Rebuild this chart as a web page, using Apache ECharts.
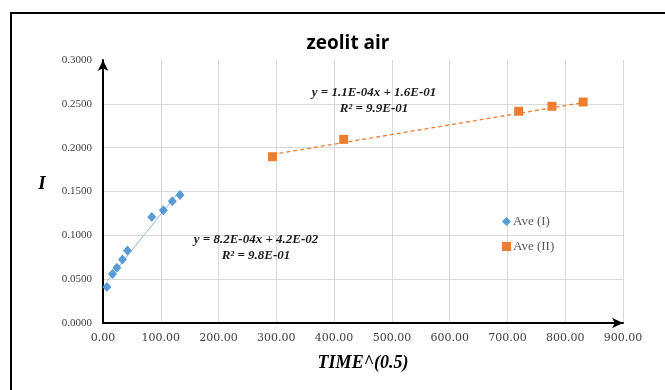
<!DOCTYPE html>
<html>
<head>
<meta charset="utf-8">
<script src="https://cdn.jsdelivr.net/npm/echarts@6/dist/echarts.min.js"></script>
<style>
  html, body { margin: 0; padding: 0; background: #fff; }
  #chart { width: 665px; height: 390px; }
</style>
</head>
<body>
<div id="chart"></div>
<script>
// Series I: early-time measurements
const aveIx = [6.7, 16.4, 24.0, 33.7, 42.3, 84.4, 104.5, 120.0, 133.3];
const aveIy = [0.0411, 0.0560, 0.0629, 0.0723, 0.0826, 0.1210, 0.1287, 0.1390, 0.1459];
// Series II: late-time measurements
const aveIIx = [293.4, 416.6, 719.4, 777.0, 831.0];
const aveIIy = [0.1897, 0.2095, 0.2415, 0.2472, 0.2521];

// Linear fits as printed on the chart
const fitI = { slope: 8.2e-4, intercept: 4.2e-2, label: 'y = 8.2E-04x + 4.2E-02', r2: 'R² = 9.8E-01' };
const fitII = { slope: 1.1e-4, intercept: 1.6e-1, label: 'y = 1.1E-04x + 1.6E-01', r2: 'R² = 9.9E-01' };

// Axis settings
const xTicks = { min: 0, max: 900, interval: 100 };
const yTicks = { min: 0, max: 0.3, interval: 0.05 };

const BLUE = '#5b9bd5';
const ORANGE = '#ed7d31';

function pairs(xs, ys) { return xs.map((x, i) => [x, ys[i]]); }
function fitLine(fit, xs) {
  const x0 = Math.min(...xs), x1 = Math.max(...xs);
  return [[x0, fit.slope * x0 + fit.intercept], [x1, fit.slope * x1 + fit.intercept]];
}

const chart = echarts.init(document.getElementById('chart'), null, { renderer: 'canvas' });

chart.setOption({
  backgroundColor: '#ffffff',
  animation: false,
  title: {
    text: 'zeolit air',
    left: 343, top: 29, textAlign: 'center',
    textStyle: { fontFamily: 'Open Sans, sans-serif', fontWeight: 'bold', fontSize: 19, color: '#000' }
  },
  grid: { left: 103, right: 42, top: 60, bottom: 67, containLabel: false },
  legend: {
    orient: 'vertical',
    left: 497, top: 210,
    itemWidth: 9, itemHeight: 9, itemGap: 12,
    data: ['Ave (I)', 'Ave (II)'],
    textStyle: { fontFamily: 'Liberation Serif, serif', fontSize: 13, color: '#595959', padding: [0, 0, 0, -3] }
  },
  xAxis: {
    type: 'value',
    min: xTicks.min, max: xTicks.max, interval: xTicks.interval,
    name: 'TIME^(0.5)',
    nameLocation: 'middle', nameGap: 31,
    nameTextStyle: { fontFamily: 'Liberation Serif, serif', fontStyle: 'italic', fontWeight: 'bold', fontSize: 18, color: '#000' },
    axisLine: { show: true, onZero: false, lineStyle: { color: '#000', width: 2 }, symbol: ['none', 'arrow'], symbolSize: [8, 11] },
    axisTick: { show: false },
    axisLabel: {
      margin: 10,
      formatter: v => v.toFixed(2),
      fontFamily: 'DejaVu Serif, serif', fontSize: 11, color: '#404040'
    },
    splitLine: { show: true, lineStyle: { color: '#d9d9d9', width: 1 } }
  },
  yAxis: {
    type: 'value',
    min: yTicks.min, max: yTicks.max, interval: yTicks.interval,
    axisLine: { show: true, onZero: false, lineStyle: { color: '#000', width: 2 }, symbol: ['none', 'arrow'], symbolSize: [8, 11] },
    axisTick: { show: false },
    axisLabel: {
      margin: 11,
      formatter: v => v.toFixed(4),
      fontFamily: 'Liberation Serif, serif', fontSize: 11, color: '#404040'
    },
    splitLine: { show: true, showMaxLine: false, lineStyle: { color: '#d9d9d9', width: 1 } }
  },
  series: [
    {
      name: 'fit I', type: 'line', data: fitLine(fitI, aveIx),
      symbol: 'none', silent: true, z: 1,
      lineStyle: { color: BLUE, width: 1, opacity: 0.7 }
    },
    {
      name: 'fit II', type: 'line', data: fitLine(fitII, aveIIx),
      symbol: 'none', silent: true, z: 1,
      lineStyle: { color: ORANGE, width: 1.3, type: [4, 3] }
    },
    {
      name: 'Ave (I)', type: 'scatter', data: pairs(aveIx, aveIy),
      symbol: 'diamond', symbolSize: [9, 10], z: 3,
      itemStyle: { color: BLUE, opacity: 1 }
    },
    {
      name: 'Ave (II)', type: 'scatter', data: pairs(aveIIx, aveIIy),
      symbol: 'rect', symbolSize: [9, 9], z: 3,
      itemStyle: { color: ORANGE, opacity: 1 }
    }
  ],
  graphic: [
    {
      type: 'rect', silent: true, z: -1,
      shape: { x: 11, y: 13, width: 720, height: 420 },
      style: { fill: 'none', stroke: '#000', lineWidth: 2 }
    },
    {
      // vertical axis title
      type: 'text', silent: true, x: 42, y: 184, z: 5,
      style: {
        text: 'I', align: 'center', verticalAlign: 'middle',
        fontFamily: 'Liberation Serif, serif', fontStyle: 'italic', fontWeight: 'bold',
        fontSize: 19, fill: '#000'
      }
    },
    {
      type: 'text', silent: true, x: 256, y: 248, z: 5,
      style: {
        text: fitI.label + '\n' + fitI.r2, align: 'center', verticalAlign: 'middle',
        fontFamily: 'Liberation Serif, serif', fontStyle: 'italic', fontWeight: 'bold',
        fontSize: 13, lineHeight: 16, fill: '#1a1a1a'
      }
    },
    {
      type: 'text', silent: true, x: 374, y: 101, z: 5,
      style: {
        text: fitII.label + '\n' + fitII.r2, align: 'center', verticalAlign: 'middle',
        fontFamily: 'Liberation Serif, serif', fontStyle: 'italic', fontWeight: 'bold',
        fontSize: 13, lineHeight: 16, fill: '#1a1a1a'
      }
    }
  ]
});
</script>
</body>
</html>
